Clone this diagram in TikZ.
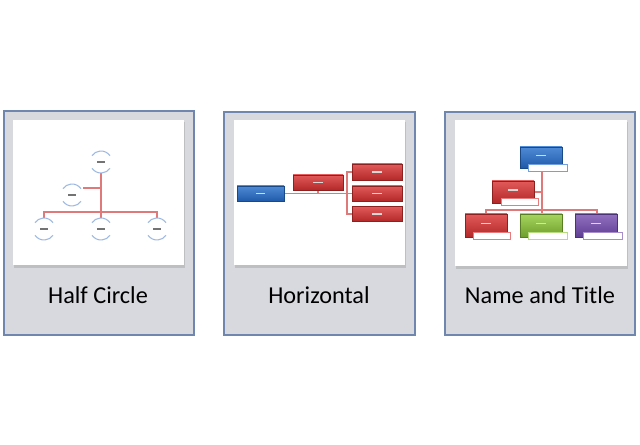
\documentclass[tikz,border=0pt]{standalone}
\usepackage{fontspec}
\setmainfont{Carlito}
\usetikzlibrary{shadows}
\definecolor{framefill}{HTML}{D8D9DE}
\definecolor{framedraw}{HTML}{6F87AE}
\definecolor{linkred}{HTML}{E07A7A}
\definecolor{arcblue}{HTML}{9DB9E2}
\definecolor{redtop}{HTML}{E25A5A}
\definecolor{redbot}{HTML}{B32828}
\definecolor{bluetop}{HTML}{4F8AD6}
\definecolor{bluebot}{HTML}{1F5BAA}
\definecolor{greentop}{HTML}{A6D45E}
\definecolor{greenbot}{HTML}{6E9E2C}
\definecolor{purpletop}{HTML}{9270C0}
\definecolor{purplebot}{HTML}{5F3F93}
\tikzset{
  frame/.style={fill=framefill, draw=framedraw, line width=1.1pt},
  card/.style={fill=white, draw=none},
  cardshadow/.style={fill=black!35, draw=none, opacity=0.5},
  caption/.style={font=\fontsize{18.2}{20}\selectfont, text=black, inner sep=0pt},
  link/.style={draw=linkred, line width=0.9pt},
  halfnode/.style={circle, minimum size=16.5pt, inner sep=0pt, draw=none},
  arcline/.style={draw=arcblue, line width=0.8pt},
  dashmark/.style={draw=black!55, line width=1.3pt},
  cbox/.style={rectangle, inner sep=0pt, draw=#1bot!80!black, line width=0.4pt,
     top color=#1top, bottom color=#1bot,
     drop shadow={shadow xshift=0.6pt, shadow yshift=-0.8pt, opacity=0.35}},
  subbox/.style={rectangle, inner sep=0pt, fill=white, draw=#1top!80, line width=0.6pt,
     minimum height=5.25pt},
  wdash/.style={draw=white!85!black, line width=1.1pt},
}
\begin{document}
\begin{tikzpicture}[x=0.75pt, y=-0.75pt]
\useasboundingbox (0,0) rectangle (640,445);
\fill[white] (0,0) rectangle (640,445);

% ---------- Frames ----------
\draw[frame] (4,111) rectangle (194,335);
\draw[frame] (224,112) rectangle (415,335);
\draw[frame] (445,112) rectangle (635,335);

% shadows & cards
\fill[cardshadow] (14,122) rectangle (185,268);
\fill[card] (13,120) rectangle (184,265);
\fill[cardshadow] (235,122) rectangle (406,268);
\fill[card] (234,120) rectangle (405,265);
\fill[cardshadow] (456,122) rectangle (628,269);
\fill[card] (455,120) rectangle (627,266);

% captions
\node[caption] (cap1) at (98,295) {Half Circle};
\node[caption] (cap2) at (319,295) {Horizontal};
\node[caption] (cap3) at (540,295) {Name and Title};

% ---------- Half Circle ----------
\node[halfnode] (h0) at (101,162) {};
\node[halfnode] (h1) at (72,195) {};
\node[halfnode] (h2) at (44,229) {};
\node[halfnode] (h3) at (101,229) {};
\node[halfnode] (h4) at (157,229) {};
\coordinate (hbar) at (101,212);
\coordinate (hbr) at (101,188);
\draw[link] (h0.south) -- (hbar);
\draw[link] (hbr) -- (h1.east |- hbr);
\draw[link] (h2.north) |- (h4.north |- hbar) -- (h4.north);
\draw[link] (hbar) -- (h3.north);
\foreach \n in {h0,h1,h2,h3,h4}{
  \draw[arcline] ([shift={(35:8.25pt)}]\n.center) arc[start angle=35, end angle=145, radius=8.25pt];
  \draw[arcline] ([shift={(215:8.25pt)}]\n.center) arc[start angle=215, end angle=325, radius=8.25pt];
  \draw[dashmark] ([xshift=-2.8pt]\n.center) -- ([xshift=2.8pt]\n.center);
}

% ---------- Horizontal ----------
\coordinate (hbk) at (347,193.5);
\coordinate (hbj) at (318,193.5);
\draw[link] (255,193.5) -- (360,193.5);
\draw[link] (318,185) -- (hbj);
\draw[link] (360,172) -| (hbk) |- (360,214);
\node[cbox=blue, minimum width=35.25pt, minimum height=11.25pt] (hb) at (260.5,193.5) {};
\node[cbox=red, minimum width=37.5pt, minimum height=11.25pt] (hm) at (318,182.5) {};
\node[cbox=red, minimum width=37.5pt, minimum height=12pt] (hr1) at (377,172) {};
\node[cbox=red, minimum width=37.5pt, minimum height=11.25pt] (hr2) at (377,193.5) {};
\node[cbox=red, minimum width=37.5pt, minimum height=11pt] (hr3) at (377,214) {};
\foreach \n in {hb,hm,hr1,hr2,hr3}{
  \draw[wdash] ([xshift=-3.5pt]\n.center) -- ([xshift=3.5pt]\n.center);
}

% ---------- Name and Title ----------
\coordinate (nbar) at (542,210);
\coordinate (nbr) at (542,192);
\draw[link] (542,171) -- (542,216);
\draw[link] (486,216) -- (486,210) -- (597,210) -- (597,216);
\draw[link] (530,192) -- (nbr);

\node[cbox=blue, minimum width=31.5pt, minimum height=15.75pt] (nt) at (541,157.5) {};
\node[subbox=blue, minimum width=29.25pt] (nts) at (547.5,167.5) {};
\node[cbox=red, minimum width=31.5pt, minimum height=16.5pt] (nm) at (513,192) {};
\node[subbox=red, minimum width=27.75pt] (nms) at (519.5,201.5) {};
\node[cbox=red, minimum width=31.5pt, minimum height=17.25pt] (nb1) at (486,225.5) {};
\node[subbox=red, minimum width=27.75pt] (nb1s) at (491.5,235.5) {};
\node[cbox=green, minimum width=31.5pt, minimum height=17.25pt] (nb2) at (541,225.5) {};
\node[subbox=green, minimum width=29.25pt] (nb2s) at (547.5,235.5) {};
\node[cbox=purple, minimum width=31.5pt, minimum height=17.25pt] (nb3) at (596,225.5) {};
\node[subbox=purple, minimum width=29.25pt] (nb3s) at (602.5,235.5) {};
\foreach \n in {nt,nm,nb1,nb2,nb3}{
  \draw[wdash] ([xshift=-3.5pt,yshift=1.5pt]\n.center) -- ([xshift=3.5pt,yshift=1.5pt]\n.center);
}
\end{tikzpicture}
\end{document}
